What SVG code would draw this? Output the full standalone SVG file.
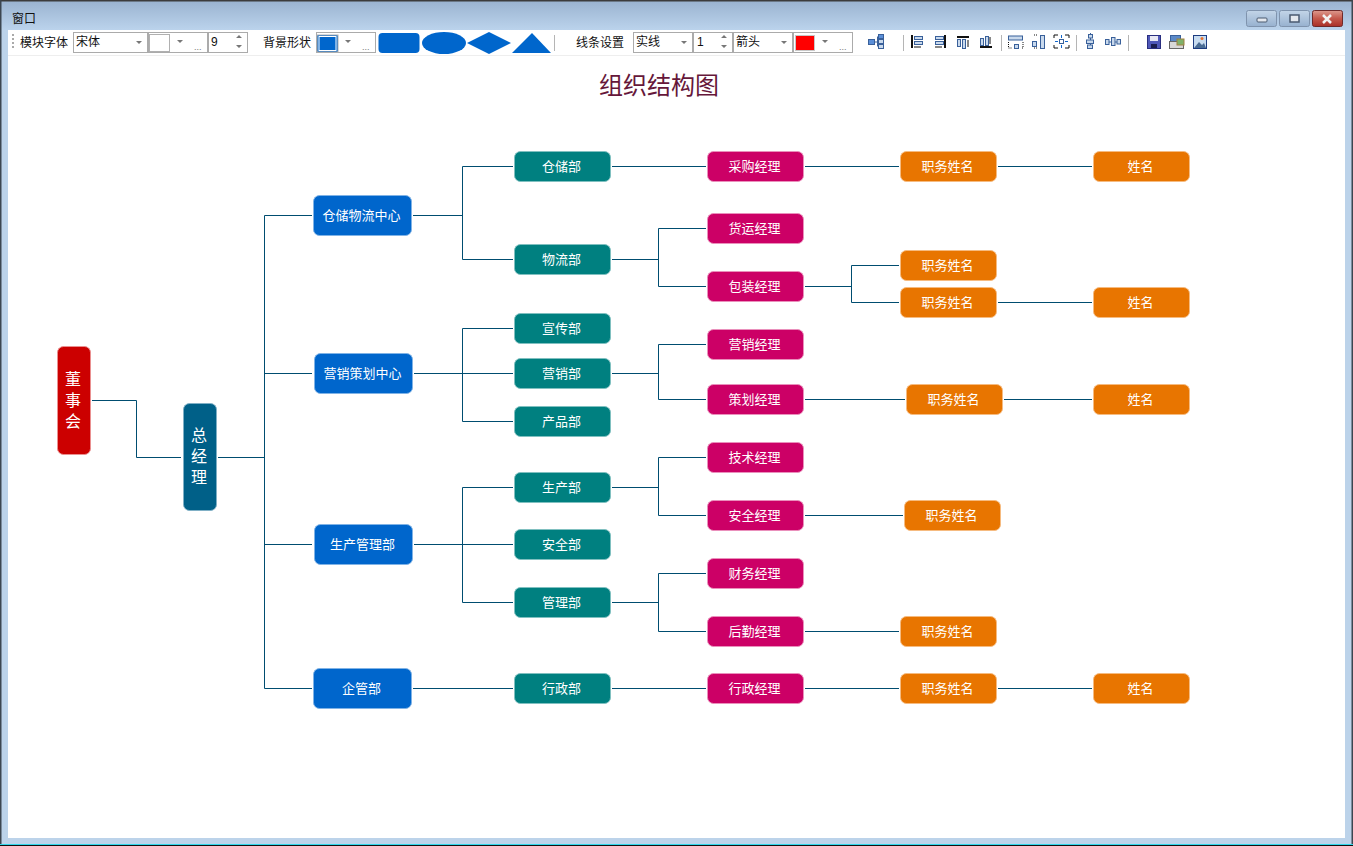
<svg xmlns="http://www.w3.org/2000/svg" width="1353" height="846" viewBox="0 0 1353 846">
<style>
text{font-family:"Noto Sans CJK SC","Liberation Sans",sans-serif}
.n{fill:#fff;font-size:13px;text-anchor:middle}
.v{fill:#fff;font-size:16px;text-anchor:middle}
.b{stroke-width:1;rx:6px;ry:6px}
.red{fill:#cc0000;stroke:#ea9090}
.gm{fill:#006088;stroke:#80b0c6}
.blue{fill:#0066cc;stroke:#80b3e6}
.teal{fill:#008080;stroke:#80c0c0}
.mag{fill:#cc0066;stroke:#ea90bc}
.or{fill:#e87500;stroke:#f6bb80}
.c path{fill:none;stroke:#004d70;stroke-width:1}
.tb{font-size:12px;fill:#111}
.cb{fill:#fff;stroke:#ababab;stroke-width:1}
.ar{fill:#777}
.dots{fill:#777;font-size:9px;font-family:"Liberation Sans",sans-serif}
.sep{stroke:#b5b5b5;stroke-width:1}
.ic{fill:#c9d9ec;stroke:#39609a;stroke-width:1}
.bk{fill:#111}
</style>
<defs>
<linearGradient id="tg" x1="0" y1="0" x2="0" y2="1"><stop offset="0" stop-color="#99b2cf"/><stop offset="1" stop-color="#bbd3ec"/></linearGradient>
<linearGradient id="bg" x1="0" y1="0" x2="0" y2="1"><stop offset="0" stop-color="#c3d5e8"/><stop offset="1" stop-color="#97b1cf"/></linearGradient>
<linearGradient id="cg" x1="0" y1="0" x2="0" y2="1"><stop offset="0" stop-color="#dd9a8e"/><stop offset="0.5" stop-color="#c4594c"/><stop offset="1" stop-color="#a92f27"/></linearGradient>
</defs>

<g id="window">
<rect width="1353" height="846" fill="#bcd3ea"/>
<rect width="1353" height="30" fill="url(#tg)"/>
<rect width="1353" height="1.5" fill="#3c3c3c"/>
<rect x="0" y="0" width="1.5" height="846" fill="#3c4650"/>
<rect x="1351.5" y="0" width="1.5" height="846" fill="#3c4650"/>
<rect x="0" y="844" width="1353" height="1" fill="#2fd6ea"/>
<rect x="0" y="845" width="1353" height="1" fill="#111"/>
<rect x="8" y="30" width="1337" height="808" fill="#fff"/>
<text x="12" y="23" class="tb" fill="#111">窗口</text>
<rect x="1246.5" y="10.500" width="30" height="16" rx="2" fill="url(#bg)" stroke="#7f93ad"/>
<rect x="1257" y="18" width="10" height="4" rx="1" fill="#e4e8ee" stroke="#4a5a70"/>
<rect x="1279.500" y="10.500" width="30" height="16" rx="2" fill="url(#bg)" stroke="#7f93ad"/>
<rect x="1290" y="15" width="9" height="7" fill="#e4e8ee" stroke="#4a5a70" stroke-width="1.500"/>
<rect x="1312.500" y="10.500" width="30" height="16" rx="2" fill="url(#cg)" stroke="#6e2a2a"/>
<path d="M1323 15l8 8M1331 15l-8 8" stroke="#f2f2f2" stroke-width="2.500" fill="none"/>
</g>

<g id="toolbar">
<rect x="8" y="30" width="1337" height="25" fill="#fff"/>
<rect x="8" y="55" width="1337" height="1" fill="#eeeeee"/>
<path d="M12 35h2M12 39h2M12 43h2M12 47h2" stroke="#aaa" stroke-width="2"/>
<text x="20" y="47" class="tb">模块字体</text>
<rect x="73.500" y="32.500" width="74" height="20" class="cb"/>
<text x="76" y="46" class="tb" fill="#333">宋体</text>
<path class="ar" d="M136 41h6l-3 3z"/>
<rect x="148.500" y="32.500" width="59" height="20" class="cb"/>
<rect x="149.500" y="34.500" width="20" height="17" fill="#fff" stroke="#b0b0b0"/>
<path class="ar" d="M177 40h6l-3 3z"/>
<text x="194" y="50" class="dots">...</text>
<rect x="208.500" y="32.500" width="39" height="20" class="cb"/>
<text x="211" y="46" class="tb" fill="#333" style="font-family:'Liberation Sans',sans-serif">9</text>
<path class="ar" d="M236 38h6l-3-3zM236 45h6l-3 3z"/>
<text x="263" y="47" class="tb">背景形状</text>
<rect x="316.500" y="32.500" width="59" height="20" class="cb"/>
<rect x="317" y="35" width="21" height="17" fill="#0066cc" stroke="#b0b0b0" stroke-width="1"/>
<rect x="319" y="36.500" width="17" height="14" fill="#0066cc" stroke="#fff"/>
<path class="ar" d="M345 40h6l-3 3z"/>
<text x="362" y="50" class="dots">...</text>
<rect x="378.500" y="33" width="41" height="20" rx="4" fill="#0066cc"/>
<ellipse cx="444" cy="43" rx="22" ry="11" fill="#0066cc"/>
<path d="M467 43l22-11 22 11-22 11z" fill="#0066cc"/>
<path d="M512 53l20-20 19 20z" fill="#0066cc"/>
<path class="sep" d="M554.500 35v16"/>
<text x="576" y="47" class="tb">线条设置</text>
<rect x="633.500" y="32.500" width="59" height="20" class="cb"/>
<text x="636" y="46" class="tb" fill="#333">实线</text>
<path class="ar" d="M681 41h6l-3 3z"/>
<rect x="693.500" y="32.500" width="39" height="20" class="cb"/>
<text x="697" y="46" class="tb" fill="#333" style="font-family:'Liberation Sans',sans-serif">1</text>
<path class="ar" d="M721 38h6l-3-3zM721 45h6l-3 3z"/>
<rect x="733.500" y="32.500" width="59" height="20" class="cb"/>
<text x="736" y="46" class="tb" fill="#333">箭头</text>
<path class="ar" d="M781 41h6l-3 3z"/>
<rect x="793.500" y="32.500" width="59" height="20" class="cb"/>
<rect x="795.500" y="35.500" width="19" height="15" fill="#ff0000" stroke="#c8c8c8"/>
<path class="ar" d="M822 40h6l-3 3z"/>
<text x="839" y="50" class="dots">...</text>
<g id="icons">
<path d="M874.500 42h3M877.500 36.500v10" stroke="#39609a" fill="none"/>
<rect x="868.500" y="39.500" width="6" height="5" fill="#5b8fd8" stroke="#39609a"/><rect x="878.500" y="34.500" width="5" height="4" fill="#5b8fd8" stroke="#39609a"/><rect x="878.500" y="39.500" width="5" height="4" class="ic"/><rect x="878.500" y="44.500" width="5" height="4" class="ic"/>
<path class="sep" d="M903.500 35v16"/>
<rect x="911" y="35" width="2" height="13" class="bk"/><rect x="914.500" y="36.500" width="8" height="3" class="ic"/><rect x="914.500" y="41.500" width="8" height="3" class="ic"/><path d="M914 47h7" stroke="#111"/>
<rect x="944" y="35" width="2" height="13" class="bk"/><rect x="935.500" y="36.500" width="8" height="3" class="ic"/><rect x="935.500" y="41.500" width="8" height="3" class="ic"/><path d="M935 47h7" stroke="#111"/>
<rect x="957" y="36" width="12" height="2" class="bk"/><rect x="957.500" y="39.500" width="3" height="7" class="ic"/><rect x="962.500" y="39.500" width="3" height="9" class="ic"/><path d="M968 40v7" stroke="#111"/>
<rect x="980" y="46" width="12" height="2" class="bk"/><rect x="980.500" y="38.500" width="3" height="7" class="ic"/><rect x="985.500" y="36.500" width="3" height="9" class="ic"/><path d="M990 37v7" stroke="#111"/>
<path class="sep" d="M1001.500 35v16"/>
<rect x="1008.500" y="36" width="14" height="4" class="ic"/><rect x="1014.500" y="44.500" width="4" height="4" class="ic"/><path d="M1008.500 42v6h3M1023 42v6h-2" fill="none" stroke="#111" stroke-dasharray="1 1"/>
<rect x="1032.500" y="41.500" width="4" height="5" class="ic"/><rect x="1040.500" y="35.500" width="4" height="13" class="ic"/><path d="M1034 35h4M1034 48h4" stroke="#111" stroke-dasharray="1 1"/>
<path d="M1054 38v-3h4M1065 35h4v3M1054 45v3h4M1065 48h4v-3" fill="none" stroke="#111"/><rect x="1059.500" y="39.500" width="4" height="4" fill="#fff" stroke="#39609a"/><path d="M1061.500 35v3M1061.500 45v3M1055 41.500h3M1065 41.500h3" stroke="#1166cc"/>
<path class="sep" d="M1076.500 35v16"/>
<path d="M1090.500 33v16" stroke="#39609a"/><rect x="1088.500" y="34.500" width="4" height="3.500" class="ic"/><rect x="1086.500" y="40" width="7" height="3.500" class="ic"/><rect x="1087.500" y="45" width="5" height="3.500" class="ic"/>
<path d="M1105 42h16" stroke="#39609a"/><rect x="1105.500" y="39.500" width="3.500" height="5" class="ic"/><rect x="1111.500" y="37.500" width="3.500" height="8" class="ic"/><rect x="1117" y="39.500" width="3.500" height="4.500" class="ic"/>
<path class="sep" d="M1128.500 35v16"/>
<rect x="1147.500" y="35.500" width="13" height="13" fill="#4f58b8" stroke="#2a2f80"/><rect x="1150" y="36" width="8" height="5" fill="#e8e8f4"/><rect x="1151" y="44" width="6" height="4" fill="#1b1f50"/>
<rect x="1170.500" y="35.500" width="10" height="6" fill="#5b8ac8" stroke="#39609a"/><rect x="1169.500" y="41.500" width="14" height="7" fill="#d8d8d8" stroke="#666"/><rect x="1177" y="39" width="7" height="6" fill="#7fb26a" stroke="#a08040"/>
<rect x="1193.500" y="35.500" width="13" height="13" fill="#c8dcf0" stroke="#1c3c80"/><path d="M1194 48l5-6 3 3 2-2 2 5z" fill="#4a6c94"/><circle cx="1202" cy="38.500" r="1.500" fill="#e8702a"/>
</g>
</g>

<text id="title" x="659" y="94" font-size="24" fill="#66173a" text-anchor="middle">组织结构图</text>

<g id="connectors" class="c">
<path d="M92 400.500H136.500V457.500H181"/>
<path d="M218 457.500H264.500M264.500 215.500V688.500M264.500 215.500H312M264.500 373.500H312M264.500 544.500H312M264.500 688.500H312"/>
<path d="M413 215.500H462.500M462.500 166.500V259.500M462.500 166.500H513M462.500 259.500H513"/>
<path d="M414 373.500H513M462.500 328.500V421.500M462.500 328.500H513M462.500 421.500H513"/>
<path d="M414 544.500H513M462.500 487.500V602.500M462.500 487.500H513M462.500 602.500H513"/>
<path d="M413 688.500H513"/>
<path d="M612 166.500H706M805 166.500H899M998 166.500H1092"/>
<path d="M612 259.500H658.500M658.500 228.500V286.500M658.500 228.500H706M658.500 286.500H706"/>
<path d="M805 286.500H851.500M851.500 265.500V302.500M851.500 265.500H899M851.500 302.500H899M998 302.500H1092"/>
<path d="M612 373.500H658.500M658.500 344.500V399.500M658.500 344.500H706M658.500 399.500H706"/>
<path d="M805 399.500H905M1004 399.500H1092"/>
<path d="M612 487.500H658.500M658.500 457.500V515.500M658.500 457.500H706M658.500 515.500H706"/>
<path d="M805 515.500H903"/>
<path d="M612 602.500H658.500M658.500 573.500V631.500M658.500 573.500H706M658.500 631.500H706"/>
<path d="M805 631.500H899"/>
<path d="M612 688.500H706M805 688.500H899M998 688.500H1092"/>
</g>

<g id="n-dongshihui"><rect class="b red" x="57.500" y="346.500" width="33" height="108"/><text class="v" x="73" y="384.500">董<tspan x="73" dy="21">事</tspan><tspan x="73" dy="21">会</tspan></text></g>
<g id="n-zongjingli"><rect class="b gm" x="183.500" y="403.500" width="33" height="107"/><text class="v" x="199" y="440.500">总<tspan x="199" dy="21">经</tspan><tspan x="199" dy="21">理</tspan></text></g>

<g id="n-c1"><rect class="b blue" x="313.500" y="195.500" width="98" height="40"/><text class="n" x="361.500" y="219.500">仓储物流中心</text></g>
<g id="n-c2"><rect class="b blue" x="314.500" y="353.500" width="98" height="40"/><text class="n" x="362.500" y="377.500">营销策划中心</text></g>
<g id="n-c3"><rect class="b blue" x="314.500" y="524.500" width="98" height="40"/><text class="n" x="362.500" y="548.500">生产管理部</text></g>
<g id="n-c4"><rect class="b blue" x="313.500" y="668.500" width="98" height="40"/><text class="n" x="361.500" y="692.500">企管部</text></g>

<g id="n-d1"><rect class="b teal" x="514.500" y="151.500" width="96" height="30"/><text class="n" x="561.500" y="170.500">仓储部</text></g>
<g id="n-d2"><rect class="b teal" x="514.500" y="244.500" width="96" height="30"/><text class="n" x="561.500" y="263.500">物流部</text></g>
<g id="n-d3"><rect class="b teal" x="514.500" y="313.500" width="96" height="30"/><text class="n" x="561.500" y="332.500">宣传部</text></g>
<g id="n-d4"><rect class="b teal" x="514.500" y="358.500" width="96" height="30"/><text class="n" x="561.500" y="377.500">营销部</text></g>
<g id="n-d5"><rect class="b teal" x="514.500" y="406.500" width="96" height="30"/><text class="n" x="561.500" y="425.500">产品部</text></g>
<g id="n-d6"><rect class="b teal" x="514.500" y="472.500" width="96" height="30"/><text class="n" x="561.500" y="491.500">生产部</text></g>
<g id="n-d7"><rect class="b teal" x="514.500" y="529.500" width="96" height="30"/><text class="n" x="561.500" y="548.500">安全部</text></g>
<g id="n-d8"><rect class="b teal" x="514.500" y="587.500" width="96" height="30"/><text class="n" x="561.500" y="606.500">管理部</text></g>
<g id="n-d9"><rect class="b teal" x="514.500" y="673.500" width="96" height="30"/><text class="n" x="561.500" y="692.500">行政部</text></g>

<g id="n-m1"><rect class="b mag" x="707.500" y="151.500" width="96" height="30"/><text class="n" x="754.500" y="170.500">采购经理</text></g>
<g id="n-m2"><rect class="b mag" x="707.500" y="213.500" width="96" height="30"/><text class="n" x="754.500" y="232.500">货运经理</text></g>
<g id="n-m3"><rect class="b mag" x="707.500" y="271.500" width="96" height="30"/><text class="n" x="754.500" y="290.500">包装经理</text></g>
<g id="n-m4"><rect class="b mag" x="707.500" y="329.500" width="96" height="30"/><text class="n" x="754.500" y="348.500">营销经理</text></g>
<g id="n-m5"><rect class="b mag" x="707.500" y="384.500" width="96" height="30"/><text class="n" x="754.500" y="403.500">策划经理</text></g>
<g id="n-m6"><rect class="b mag" x="707.500" y="442.500" width="96" height="30"/><text class="n" x="754.500" y="461.500">技术经理</text></g>
<g id="n-m7"><rect class="b mag" x="707.500" y="500.500" width="96" height="30"/><text class="n" x="754.500" y="519.500">安全经理</text></g>
<g id="n-m8"><rect class="b mag" x="707.500" y="558.500" width="96" height="30"/><text class="n" x="754.500" y="577.500">财务经理</text></g>
<g id="n-m9"><rect class="b mag" x="707.500" y="616.500" width="96" height="30"/><text class="n" x="754.500" y="635.500">后勤经理</text></g>
<g id="n-m10"><rect class="b mag" x="707.500" y="673.500" width="96" height="30"/><text class="n" x="754.500" y="692.500">行政经理</text></g>

<g id="n-o1"><rect class="b or" x="900.500" y="151.500" width="96" height="30"/><text class="n" x="947.500" y="170.500">职务姓名</text></g>
<g id="n-o2"><rect class="b or" x="900.500" y="250.500" width="96" height="30"/><text class="n" x="947.500" y="269.500">职务姓名</text></g>
<g id="n-o3"><rect class="b or" x="900.500" y="287.500" width="96" height="30"/><text class="n" x="947.500" y="306.500">职务姓名</text></g>
<g id="n-o4"><rect class="b or" x="906.500" y="384.500" width="96" height="30"/><text class="n" x="953.500" y="403.500">职务姓名</text></g>
<g id="n-o5"><rect class="b or" x="904.500" y="500.500" width="96" height="30"/><text class="n" x="951.500" y="519.500">职务姓名</text></g>
<g id="n-o6"><rect class="b or" x="900.500" y="616.500" width="96" height="30"/><text class="n" x="947.500" y="635.500">职务姓名</text></g>
<g id="n-o7"><rect class="b or" x="900.500" y="673.500" width="96" height="30"/><text class="n" x="947.500" y="692.500">职务姓名</text></g>

<g id="n-x1"><rect class="b or" x="1093.500" y="151.500" width="96" height="30"/><text class="n" x="1140.500" y="170.500">姓名</text></g>
<g id="n-x2"><rect class="b or" x="1093.500" y="287.500" width="96" height="30"/><text class="n" x="1140.500" y="306.500">姓名</text></g>
<g id="n-x3"><rect class="b or" x="1093.500" y="384.500" width="96" height="30"/><text class="n" x="1140.500" y="403.500">姓名</text></g>
<g id="n-x4"><rect class="b or" x="1093.500" y="673.500" width="96" height="30"/><text class="n" x="1140.500" y="692.500">姓名</text></g>
</svg>
